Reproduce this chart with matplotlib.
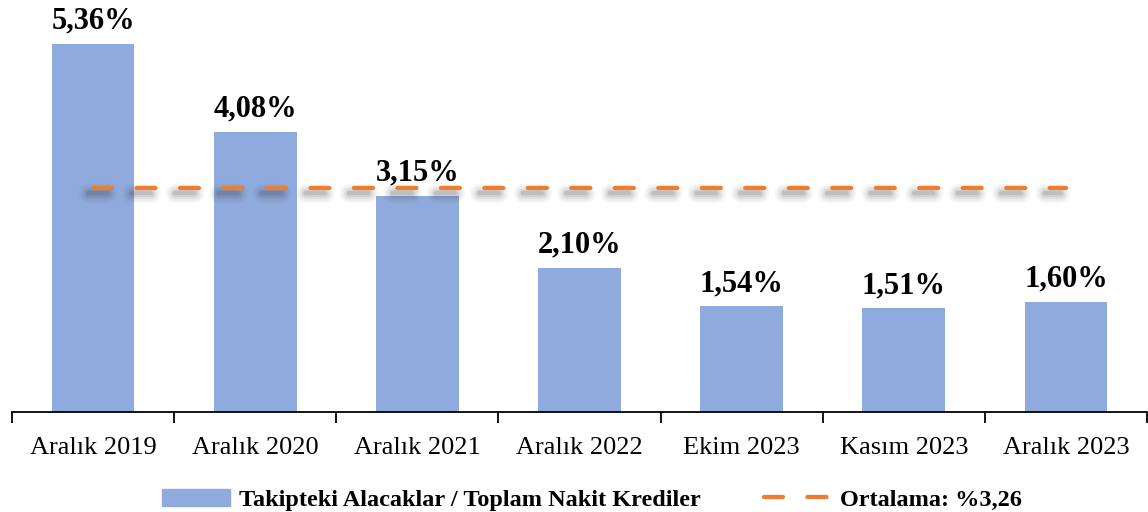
import matplotlib.pyplot as plt
import matplotlib.patheffects as pe
from matplotlib.lines import Line2D
from matplotlib.patches import Patch

plt.rcParams['font.family'] = ['Liberation Serif', 'DejaVu Serif']

categories = ['Aralık 2019', 'Aralık 2020', 'Aralık 2021', 'Aralık 2022',
              'Ekim 2023', 'Kasım 2023', 'Aralık 2023']
ratios = [5.36, 4.08, 3.15, 2.10, 1.54, 1.51, 1.60]
average = 3.26
bar_label = 'Takipteki Alacaklar / Toplam Nakit Krediler'
avg_label = 'Ortalama: %3,26'

bar_color = '#8FAADC'
line_color = '#ED7D31'
dash = (4.4, 5.7)

fig = plt.figure(figsize=(11.48, 5.12), dpi=100)
ax = fig.add_axes([12 / 1148, 100 / 512, 1135 / 1148, 412 / 512])

x = list(range(len(categories)))
bars = ax.bar(x, ratios, width=0.51, color=bar_color, zorder=2)

for b, v in zip(bars, ratios):
    ax.annotate(f'{v:.2f}%'.replace('.', ','), (b.get_x() + b.get_width() / 2, v),
                xytext=(0, 6), textcoords='offset points', ha='center', va='bottom',
                fontsize=22, fontweight='bold')

# ortalama cizgisi + bulanik golge
shadow = []
for lw, a in [(14, 0.04), (11, 0.05), (8, 0.07), (5, 0.09), (3, 0.1)]:
    shadow.append(pe.SimpleLineShadow(offset=(-4, -3.5), shadow_color='#333333', alpha=a, linewidth=lw))
shadow.append(pe.Normal())
avg_line, = ax.plot(x, [average] * len(x), color=line_color, lw=3.1,
                    dash_capstyle='round', zorder=3, path_effects=shadow)
avg_line.set_dashes(dash)

ax.set_xlim(-0.5, 6.5)
ax.set_ylim(0, 6.0)
for s in ['top', 'right', 'left']:
    ax.spines[s].set_visible(False)
ax.spines['bottom'].set_linewidth(1.3)
ax.set_yticks([])
ax.set_xticks(x)
ax.set_xticklabels(categories, fontsize=19)
ax.tick_params(axis='x', which='major', length=0, pad=18)
ax.set_xticks([i - 0.5 for i in range(len(categories) + 1)], minor=True)
ax.tick_params(axis='x', which='minor', length=8, width=1.3)

handles = [Patch(color=bar_color),
           Line2D([0], [0], color=line_color, lw=3.1, dashes=dash, dash_capstyle='round')]
fig.legend(handles, [bar_label, avg_label], loc='lower center', bbox_to_anchor=(0.516, -0.04),
           ncol=2, frameon=False, prop={'size': 17.5, 'weight': 'bold'},
           handlelength=2.8, columnspacing=2.6, handletextpad=0.35)

fig.savefig('out.png', dpi=100)
